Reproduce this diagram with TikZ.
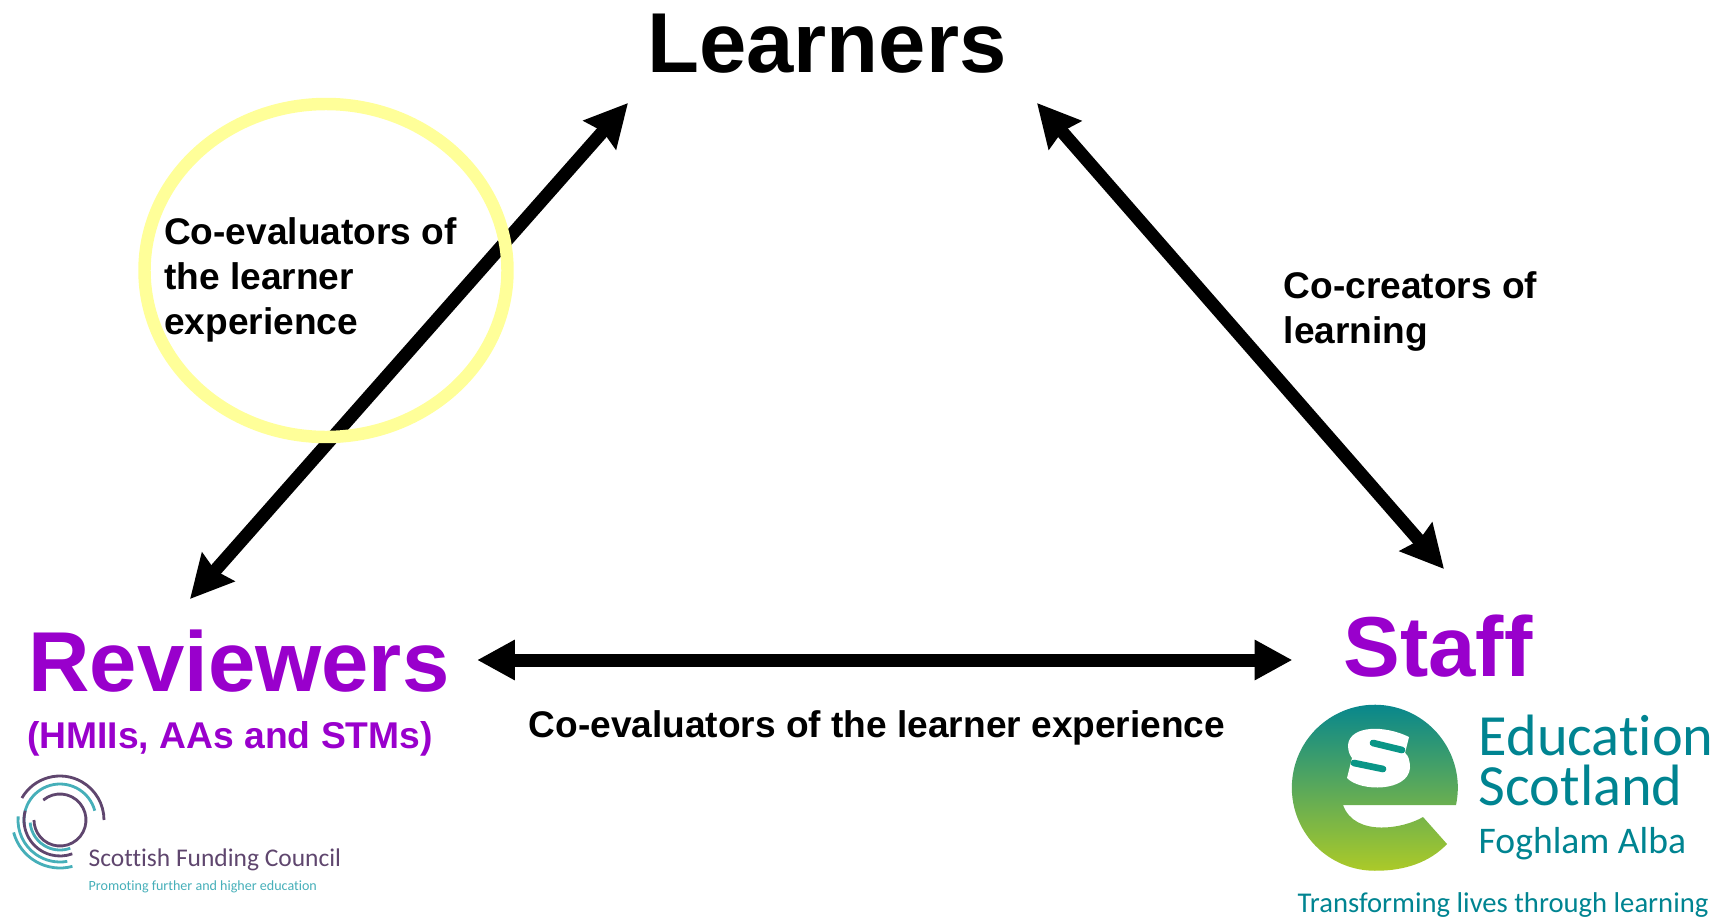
\documentclass[tikz,border=0pt]{standalone}
\usepackage{fontspec}
\setmainfont{Liberation Sans}
\newfontfamily\logofont[Ligatures=NoCommon]{Carlito}
\usetikzlibrary{arrows.meta, positioning}
\definecolor{hmipurple}{RGB}{153,0,204}
\definecolor{ringyellow}{RGB}{255,255,153}
\definecolor{esteal}{RGB}{0,132,145}
\definecolor{esgreen}{RGB}{105,178,110}
\definecolor{eslime}{RGB}{172,202,40}
\definecolor{esslit}{RGB}{10,150,135}
\definecolor{sfcgrey}{RGB}{95,70,110}
\definecolor{sfcteal}{RGB}{70,175,185}
\tikzset{
  % Diagonal double arrows
  link/.style={line width=3.7pt, {Stealth[length=12pt, width=12pt, inset=1.2pt]}-{Stealth[length=12pt, width=12pt, inset=1.2pt]}},
  % Horizontal double arrow
  flatlink/.style={line width=3.7pt, {Triangle[length=10.8pt, width=10.8pt]}-{Triangle[length=10.8pt, width=10.8pt]}},
  % Role titles
  role/.style={font=\bfseries\fontsize{24.2}{26}\selectfont, inner sep=0pt, anchor=base},
  rolep/.style={role, text=hmipurple},
  % Relationship labels
  relation/.style={font=\bfseries\fontsize{10.55}{12.8}\selectfont, inner sep=0pt, align=left, anchor=north west},
  % Logo texts
  logotext/.style={inner sep=0pt, anchor=base west, text=esteal},
  sfctext/.style={inner sep=0pt, anchor=base west},
}
\begin{document}
\begin{tikzpicture}[x=0.1mm, y=-0.1mm]
  \useasboundingbox (0,0) rectangle (1730,917);

  \node[role] (learners) at (827,72) {Learners};
  \node[rolep] (staff) at (1438,676) {Staff};
  \node[rolep] (reviewers) at (239,691) {Reviewers};
  \node[font=\bfseries\fontsize{10.6}{13}\selectfont, text=hmipurple, inner sep=0pt, anchor=base] (panel) at (230,748) {(HMIIs, AAs and STMs)};

  \coordinate (lt) at (628,103);
  \coordinate (lb) at (190,599);
  \coordinate (rt) at (1037,103);
  \coordinate (rb) at (1444,569);
  \coordinate (ml) at (477,660);
  \coordinate (mr) at (1292.5,660);
  \draw[link] (lb) -- (lt);
  \draw[link] (rt) -- (rb);
  \draw[flatlink] (ml) -- (mr);

  % Ring over the arrow
  \draw[ringyellow, line width=3.55pt] (326,270.5) ellipse [x radius=181.5, y radius=166.5];

  \node[relation] (ringtext) at (163.5,217) {Co-evaluators of\\the learner\\experience};
  \node[relation] (cocreate) at (1283,271) {Co-creators of\\learning};
  \node[relation] (coeval) at (528,710) {Co-evaluators of the learner experience};

  % Scottish Funding Council logo
  \foreach \r/\a/\b/\c in {44/210/360/sfcgrey, 36/170/345/sfcteal, 26/230/540/sfcgrey, 30/175/70/sfcteal, 36/195/70/sfcgrey, 42/185/80/sfcteal, 48/165/75/sfcteal}{
    \draw[\c, line width=0.8pt] (60,820) ++(\a:\r) arc [start angle=\a, end angle=\b, radius=\r];
  }
  \node[sfctext, text=sfcgrey, font=\logofont\fontsize{7.25}{9}\selectfont] (sfc) at (88,866) {Scottish Funding Council};
  \node[sfctext, text=sfcteal, font=\logofont\fontsize{4}{5}\selectfont] (sfctag) at (88,890) {Promoting further and higher education};

  % Education Scotland logo
  \shade[top color=esteal, middle color=esgreen, bottom color=eslime]
    (1456,805) arc [start angle=12, end angle=-270, radius=83]
    .. controls (1405,871) and (1430,862) .. (1447,844) -- (1423,817)
    .. controls (1405,828) and (1355,838) .. (1343,805) -- cycle;
  \fill[white] (1409,737) .. controls (1385,725) and (1350,725) .. (1348,745)
    .. controls (1348,752) and (1350,755) .. (1352,758) -- (1347,778)
    .. controls (1360,792) and (1408,792) .. (1410,768)
    .. controls (1410,760) and (1408,755) .. (1405,753) -- cycle;
  \draw[esslit, line width=1.9pt, line cap=round] (1373,743) -- (1402,750);
  \draw[esslit, line width=1.9pt, line cap=round] (1354,763) -- (1383,769);
  \node[logotext, font=\logofont\fontsize{16.6}{18}\selectfont] (edu) at (1478,755) {Education};
  \node[logotext, font=\logofont\fontsize{16.6}{18}\selectfont] (sco) at (1478,805) {Scotland};
  \node[logotext, font=\logofont\fontsize{10.7}{12}\selectfont] (fog) at (1478,853) {Foghlam Alba};
  \node[logotext, font=\logofont\fontsize{8.15}{9}\selectfont] (tag) at (1297,912) {Transforming lives through learning};
\end{tikzpicture}
\end{document}
